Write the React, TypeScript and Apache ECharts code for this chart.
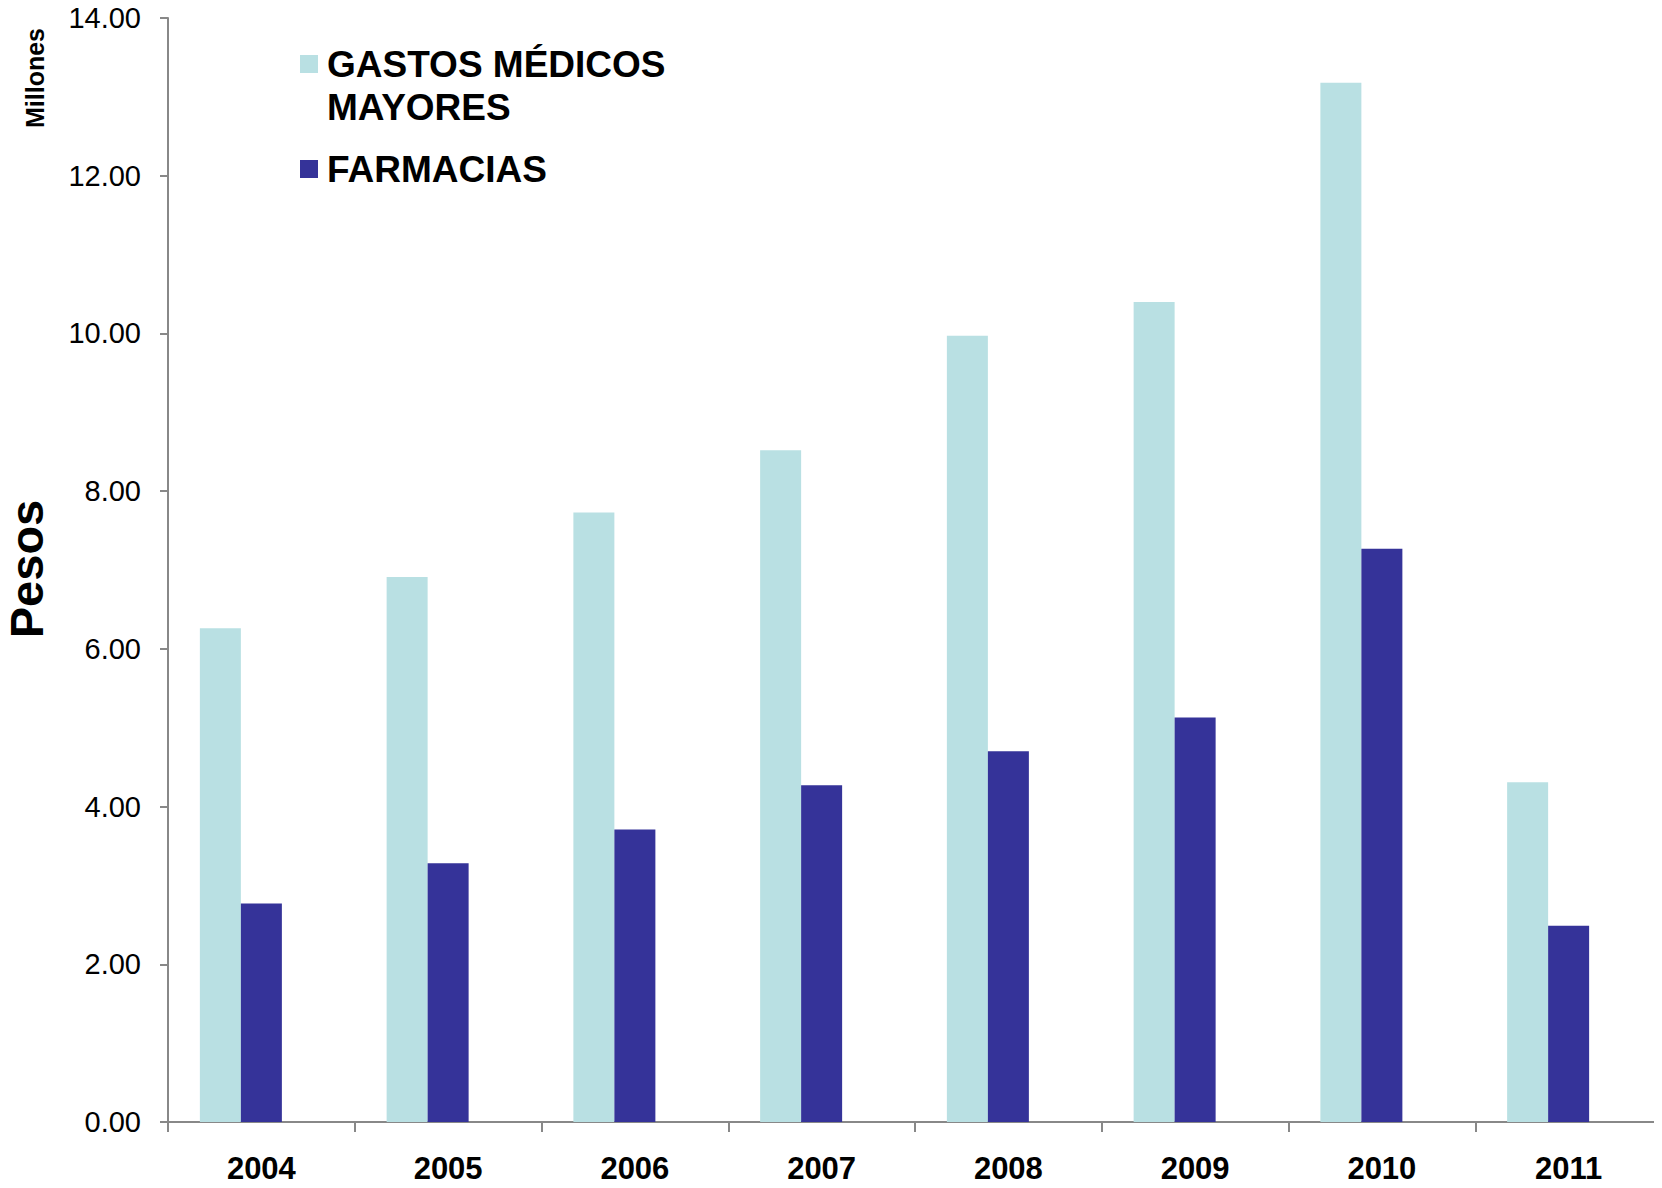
import React, { useEffect, useRef } from "react";
import * as echarts from "echarts";

const categories = ["2004", "2005", "2006", "2007", "2008", "2009", "2010", "2011"];
const gastosMedicos = [6.26, 6.91, 7.73, 8.52, 9.97, 10.4, 13.18, 4.31];
const farmacias = [2.77, 3.28, 3.71, 4.27, 4.7, 5.13, 7.27, 2.49];
const seriesNames = ["GASTOS MÉDICOS MAYORES", "FARMACIAS"];
const colors = ["#B9E0E3", "#353399"];

export default function App() {
  const ref = useRef<HTMLDivElement>(null);
  useEffect(() => {
    const chart = echarts.init(ref.current!, null, { renderer: "svg" });
    const font = "'Liberation Sans', Arial, sans-serif";
    chart.setOption({
      animation: false,
      backgroundColor: "#ffffff",
      textStyle: { fontFamily: font },
      grid: { left: 168, top: 18, right: 0, bottom: 66, containLabel: false },
      xAxis: {
        type: "category",
        data: categories,
        axisLine: { lineStyle: { color: "#888888", width: 2 } },
        axisTick: { show: true, length: 10, lineStyle: { color: "#888888", width: 2 } },
        axisLabel: { color: "#000", fontSize: 31, fontWeight: "bold", fontFamily: font, margin: 31 },
      },
      yAxis: {
        type: "value",
        min: 0,
        max: 14,
        interval: 2,
        axisLine: { show: true, lineStyle: { color: "#888888", width: 2 } },
        axisTick: { show: true, length: 8, lineStyle: { color: "#888888", width: 2 } },
        splitLine: { show: false },
        axisLabel: {
          color: "#000",
          fontSize: 29,
          fontFamily: font,
          margin: 27,
          formatter: (v: number) => v.toFixed(2),
        },
      },
      series: [
        {
          name: seriesNames[0],
          type: "bar",
          data: gastosMedicos,
          barWidth: 41,
          barGap: "0%",
          itemStyle: { color: colors[0] },
        },
        {
          name: seriesNames[1],
          type: "bar",
          data: farmacias,
          barWidth: 41,
          barGap: "0%",
          itemStyle: { color: colors[1] },
        },
        {
          name: "vacío",
          type: "bar",
          data: [],
          barWidth: 41,
          barGap: "0%",
          silent: true,
          itemStyle: { color: "transparent" },
        },
      ],
      graphic: [
        {
          type: "text",
          x: 26,
          y: 569,
          rotation: Math.PI / 2,
          style: {
            text: "Pesos",
            fontSize: 47,
            fontWeight: "bold",
            fontFamily: font,
            fill: "#000",
            textAlign: "center",
            textVerticalAlign: "middle",
          },
        },
        {
          type: "text",
          x: 35,
          y: 78,
          rotation: Math.PI / 2,
          style: {
            text: "Millones",
            fontSize: 25,
            fontWeight: "bold",
            fontFamily: font,
            fill: "#000",
            textAlign: "center",
            textVerticalAlign: "middle",
          },
        },
        {
          type: "rect",
          shape: { x: 300, y: 55, width: 18, height: 18 },
          style: { fill: colors[0] },
        },
        {
          type: "text",
          x: 327,
          y: 64,
          style: {
            text: "GASTOS MÉDICOS",
            fontSize: 37,
            fontWeight: "bold",
            fontFamily: font,
            fill: "#000",
            textAlign: "left",
            textVerticalAlign: "middle",
          },
        },
        {
          type: "text",
          x: 327,
          y: 107,
          style: {
            text: "MAYORES",
            fontSize: 37,
            fontWeight: "bold",
            fontFamily: font,
            fill: "#000",
            textAlign: "left",
            textVerticalAlign: "middle",
          },
        },
        {
          type: "rect",
          shape: { x: 300, y: 160, width: 18, height: 18 },
          style: { fill: colors[1] },
        },
        {
          type: "text",
          x: 327,
          y: 169,
          style: {
            text: "FARMACIAS",
            fontSize: 37,
            fontWeight: "bold",
            fontFamily: font,
            fill: "#000",
            textAlign: "left",
            textVerticalAlign: "middle",
          },
        },
      ],
    });
    return () => chart.dispose();
  }, []);
  return <div ref={ref} style={{ width: 1662, height: 1188, margin: -8 }} />;
}
